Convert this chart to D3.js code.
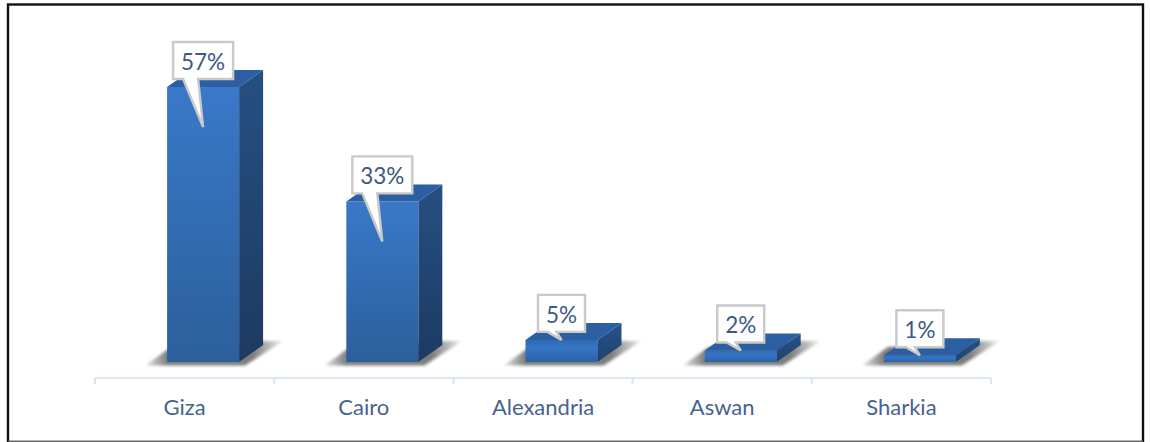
<!DOCTYPE html>
<html><head><meta charset="utf-8">
<script src="https://cdn.jsdelivr.net/npm/d3@7"></script>
<style>html,body{margin:0;padding:0;background:#fff}svg{display:block}</style>
</head><body><svg id="c" width="1150" height="442"></svg>
<script>
const categories = ["Giza","Cairo","Alexandria","Aswan","Sharkia"];
const values = [57.2,33.4,4.6,2.4,1.4];

const svg = d3.select("#c");
const F = "Lato, Carlito, sans-serif";
const baseY = 362, depthX = 24, depthY = 17, barW = 72, frontShift = 18.5;
const x = d3.scaleBand().domain(categories).range([95,991]);
const y = d3.scaleLinear().domain([0,57.2]).range([baseY,87]);

const defs = svg.append("defs");
function grad(id, stops){
  const g = defs.append("linearGradient").attr("id",id).attr("x1",0).attr("y1",0).attr("x2",0).attr("y2",1);
  stops.forEach(s=>g.append("stop").attr("offset",s[0]).attr("stop-color",s[1]));
}
grad("front",[[0,"#3a79c9"],[0.3,"#3571ba"],[1,"#2c5f9c"]]);
grad("frontS",[[0,"#2f69b0"],[0.35,"#3776c6"],[1,"#2c62a6"]]);
grad("side",[[0,"#265082"],[1,"#1d3a62"]]);
grad("sideS",[[0,"#27528a"],[1,"#20426f"]]);
const sh = defs.append("linearGradient").attr("id","shadow").attr("x1",0).attr("y1",0).attr("x2",1).attr("y2",0);
[[0,"#e8e8e8"],[0.16,"#7d7d7d"],[0.78,"#7d7d7d"],[1,"#efefef"]].forEach(s=>sh.append("stop").attr("offset",s[0]).attr("stop-color",s[1]));
defs.append("filter").attr("id","blur").attr("x","-30%").attr("y","-30%").attr("width","160%").attr("height","160%")
  .append("feGaussianBlur").attr("stdDeviation",1.5);

// outer frame
svg.append("rect").attr("x",8).attr("y",4.5).attr("width",1135).attr("height",437.5)
  .attr("fill","#fff").attr("stroke","#111").attr("stroke-width",2.4);
svg.append("line").attr("x1",8).attr("x2",1143).attr("y1",441.5).attr("y2",441.5).attr("stroke","#666").attr("stroke-width",1.4);

// axis
const axis = svg.append("g").attr("fill","none").attr("stroke","#dae6f7").attr("stroke-width",2.2);
axis.append("line").attr("x1",95).attr("x2",991).attr("y1",378).attr("y2",378);
const edges = categories.map(c=>x(c)).concat([x.range()[1]]);
axis.selectAll("line.t").data(edges).join("line").attr("class","t")
  .attr("x1",d=>d).attr("x2",d=>d).attr("y1",378).attr("y2",384);
svg.selectAll("text.cat").data(categories).join("text").attr("class","cat")
  .attr("x",d=>x(d)+x.bandwidth()/2).attr("y",415).attr("text-anchor","middle")
  .attr("font-family",F).attr("font-size",22).attr("fill","#46638e").text(d=>d);

const bars = svg.selectAll("g.bar").data(categories.map((c,i)=>({c,v:values[i]}))).join("g").attr("class","bar");
const L = d=>x(d.c)+x.bandwidth()/2+frontShift-barW/2;
const pts = a=>a.map(p=>p.join(",")).join(" ");

// ground shadow
bars.append("polygon").attr("filter","url(#blur)").attr("fill","url(#shadow)")
  .attr("points",d=>{const l=L(d),r=l+barW;return pts([[l-22,365.5],[l+4,347],[r+depthX,341],[r+depthX+20,341],[r+6,365.5]]);});
bars.append("polygon").attr("fill",d=>d.v>10?"url(#side)":"url(#sideS)")
  .attr("points",d=>{const r=L(d)+barW,t=y(d.v);return pts([[r,t],[r+depthX,t-depthY],[r+depthX,baseY-depthY],[r,baseY]]);});
bars.append("polygon").attr("fill","#2c5fa2")
  .attr("points",d=>{const l=L(d),r=l+barW,t=y(d.v);return pts([[l,t],[l+depthX,t-depthY],[r+depthX,t-depthY],[r,t]]);});
bars.append("rect").attr("fill",d=>d.v>10?"url(#front)":"url(#frontS)")
  .attr("x",L).attr("y",d=>y(d.v)).attr("width",barW).attr("height",d=>baseY-y(d.v));

// callouts
const pct = d=>Math.round(d.v)+"%";
bars.append("path").attr("fill","#fff").attr("stroke","#c9c9c9").attr("stroke-width",2.4).attr("stroke-linejoin","miter")
  .attr("d",d=>{
    const cx=L(d)+barW/2, top=y(d.v)-45, big=d.v>=10, hw=big?30:23.5, bot=top+37,
      tipY=y(d.v)+(d.v>10?40:0), a=big?-20:-14, b=-5;
    return `M${cx-hw},${top}H${cx+hw}V${bot}H${cx+b}L${cx},${tipY}L${cx+a},${bot}H${cx-hw}Z`;
  });
bars.append("text").attr("x",d=>L(d)+barW/2).attr("y",d=>y(d.v)-17)
  .attr("text-anchor","middle").attr("font-family",F).attr("font-size",22.5).attr("fill","#3d5a85").text(pct);
</script></body></html>
